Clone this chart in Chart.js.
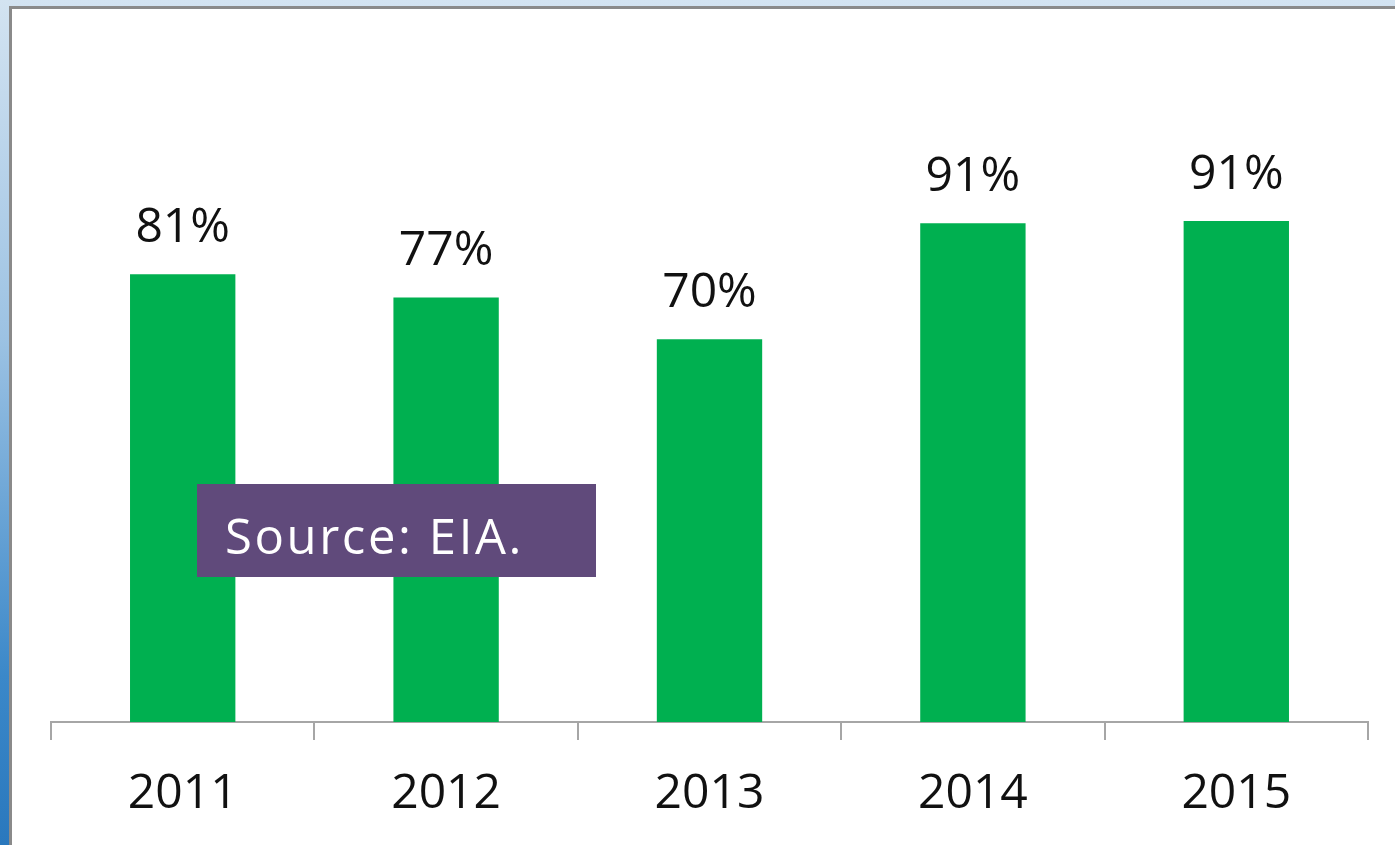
<!DOCTYPE html>
<html>
<head>
<meta charset="utf-8">
<script src="https://cdn.jsdelivr.net/npm/chart.js@4.4.1/dist/chart.umd.min.js"></script>
<style>
  html, body { margin: 0; padding: 0; }
  body {
    width: 1395px; height: 845px; overflow: hidden; position: relative;
    background: linear-gradient(to bottom, #d3e3f1 0%, #9cc2e3 40%, #3b88c9 80%, #2a78bd 100%);
  }
  #panel {
    position: absolute; left: 9px; top: 6px; right: 0; bottom: 0;
    background: #fff;
    border-top: 3px solid #8a8a8a;
    border-left: 3px solid #8a8a8a;
  }
  #chart { position: absolute; left: 0; top: 0; }
  #source {
    position: absolute; left: 197px; top: 484px; width: 399px; height: 93px;
    background: #604a7b; color: #fff; overflow: visible;
    font-family: "Open Sans", sans-serif; font-size: 49px; letter-spacing: 2.6px;
    line-height: 102px; box-sizing: border-box; padding-left: 28px;
    white-space: nowrap;
  }
</style>
</head>
<body>
<div id="panel"></div>
<canvas id="chart" width="1395" height="845"></canvas>
<div id="source">Source: EIA.</div>
<script>
let years = ["2011", "2012", "2013", "2014", "2015"];
let utilizacion = [81.4, 77.2, 69.6, 90.7, 91.1];

// etiquetas encima de cada barra
const etiquetas = {
  id: "etiquetas",
  afterDatasetsDraw(chart) {
    let ctx = chart.ctx;
    let meta = chart.getDatasetMeta(0);
    ctx.save();
    ctx.font = "48px 'Open Sans'";
    ctx.fillStyle = "#111";
    ctx.textAlign = "center";
    ctx.textBaseline = "middle";
    meta.data.forEach((bar, i) => {
      ctx.fillText(Math.round(utilizacion[i]) + "%", bar.x, bar.y - 46);
    });
    ctx.restore();
  }
};

new Chart(document.getElementById("chart"), {
  type: "bar",
  data: {
    labels: years,
    datasets: [{
      data: utilizacion,
      backgroundColor: "#00b050",
      categoryPercentage: 1,
      barPercentage: 0.4
    }]
  },
  options: {
    responsive: false,
    animation: false,
    layout: { padding: { left: 51, right: 27, top: 172, bottom: 0 } },
    plugins: { legend: { display: false }, tooltip: { enabled: false } },
    scales: {
      y: { display: false, min: 0, max: 100 },
      x: {
        offset: true,
        afterFit(scale) { scale.height = 123; },
        border: { color: "#a6a6a6", width: 2 },
        grid: {
          offset: true, drawOnChartArea: false, tickLength: 18,
          color: "#a6a6a6", lineWidth: 2
        },
        ticks: {
          color: "#111", padding: 26,
          font: { family: "Open Sans", size: 48 }
        }
      }
    }
  },
  plugins: [etiquetas]
});
</script>
</body>
</html>
